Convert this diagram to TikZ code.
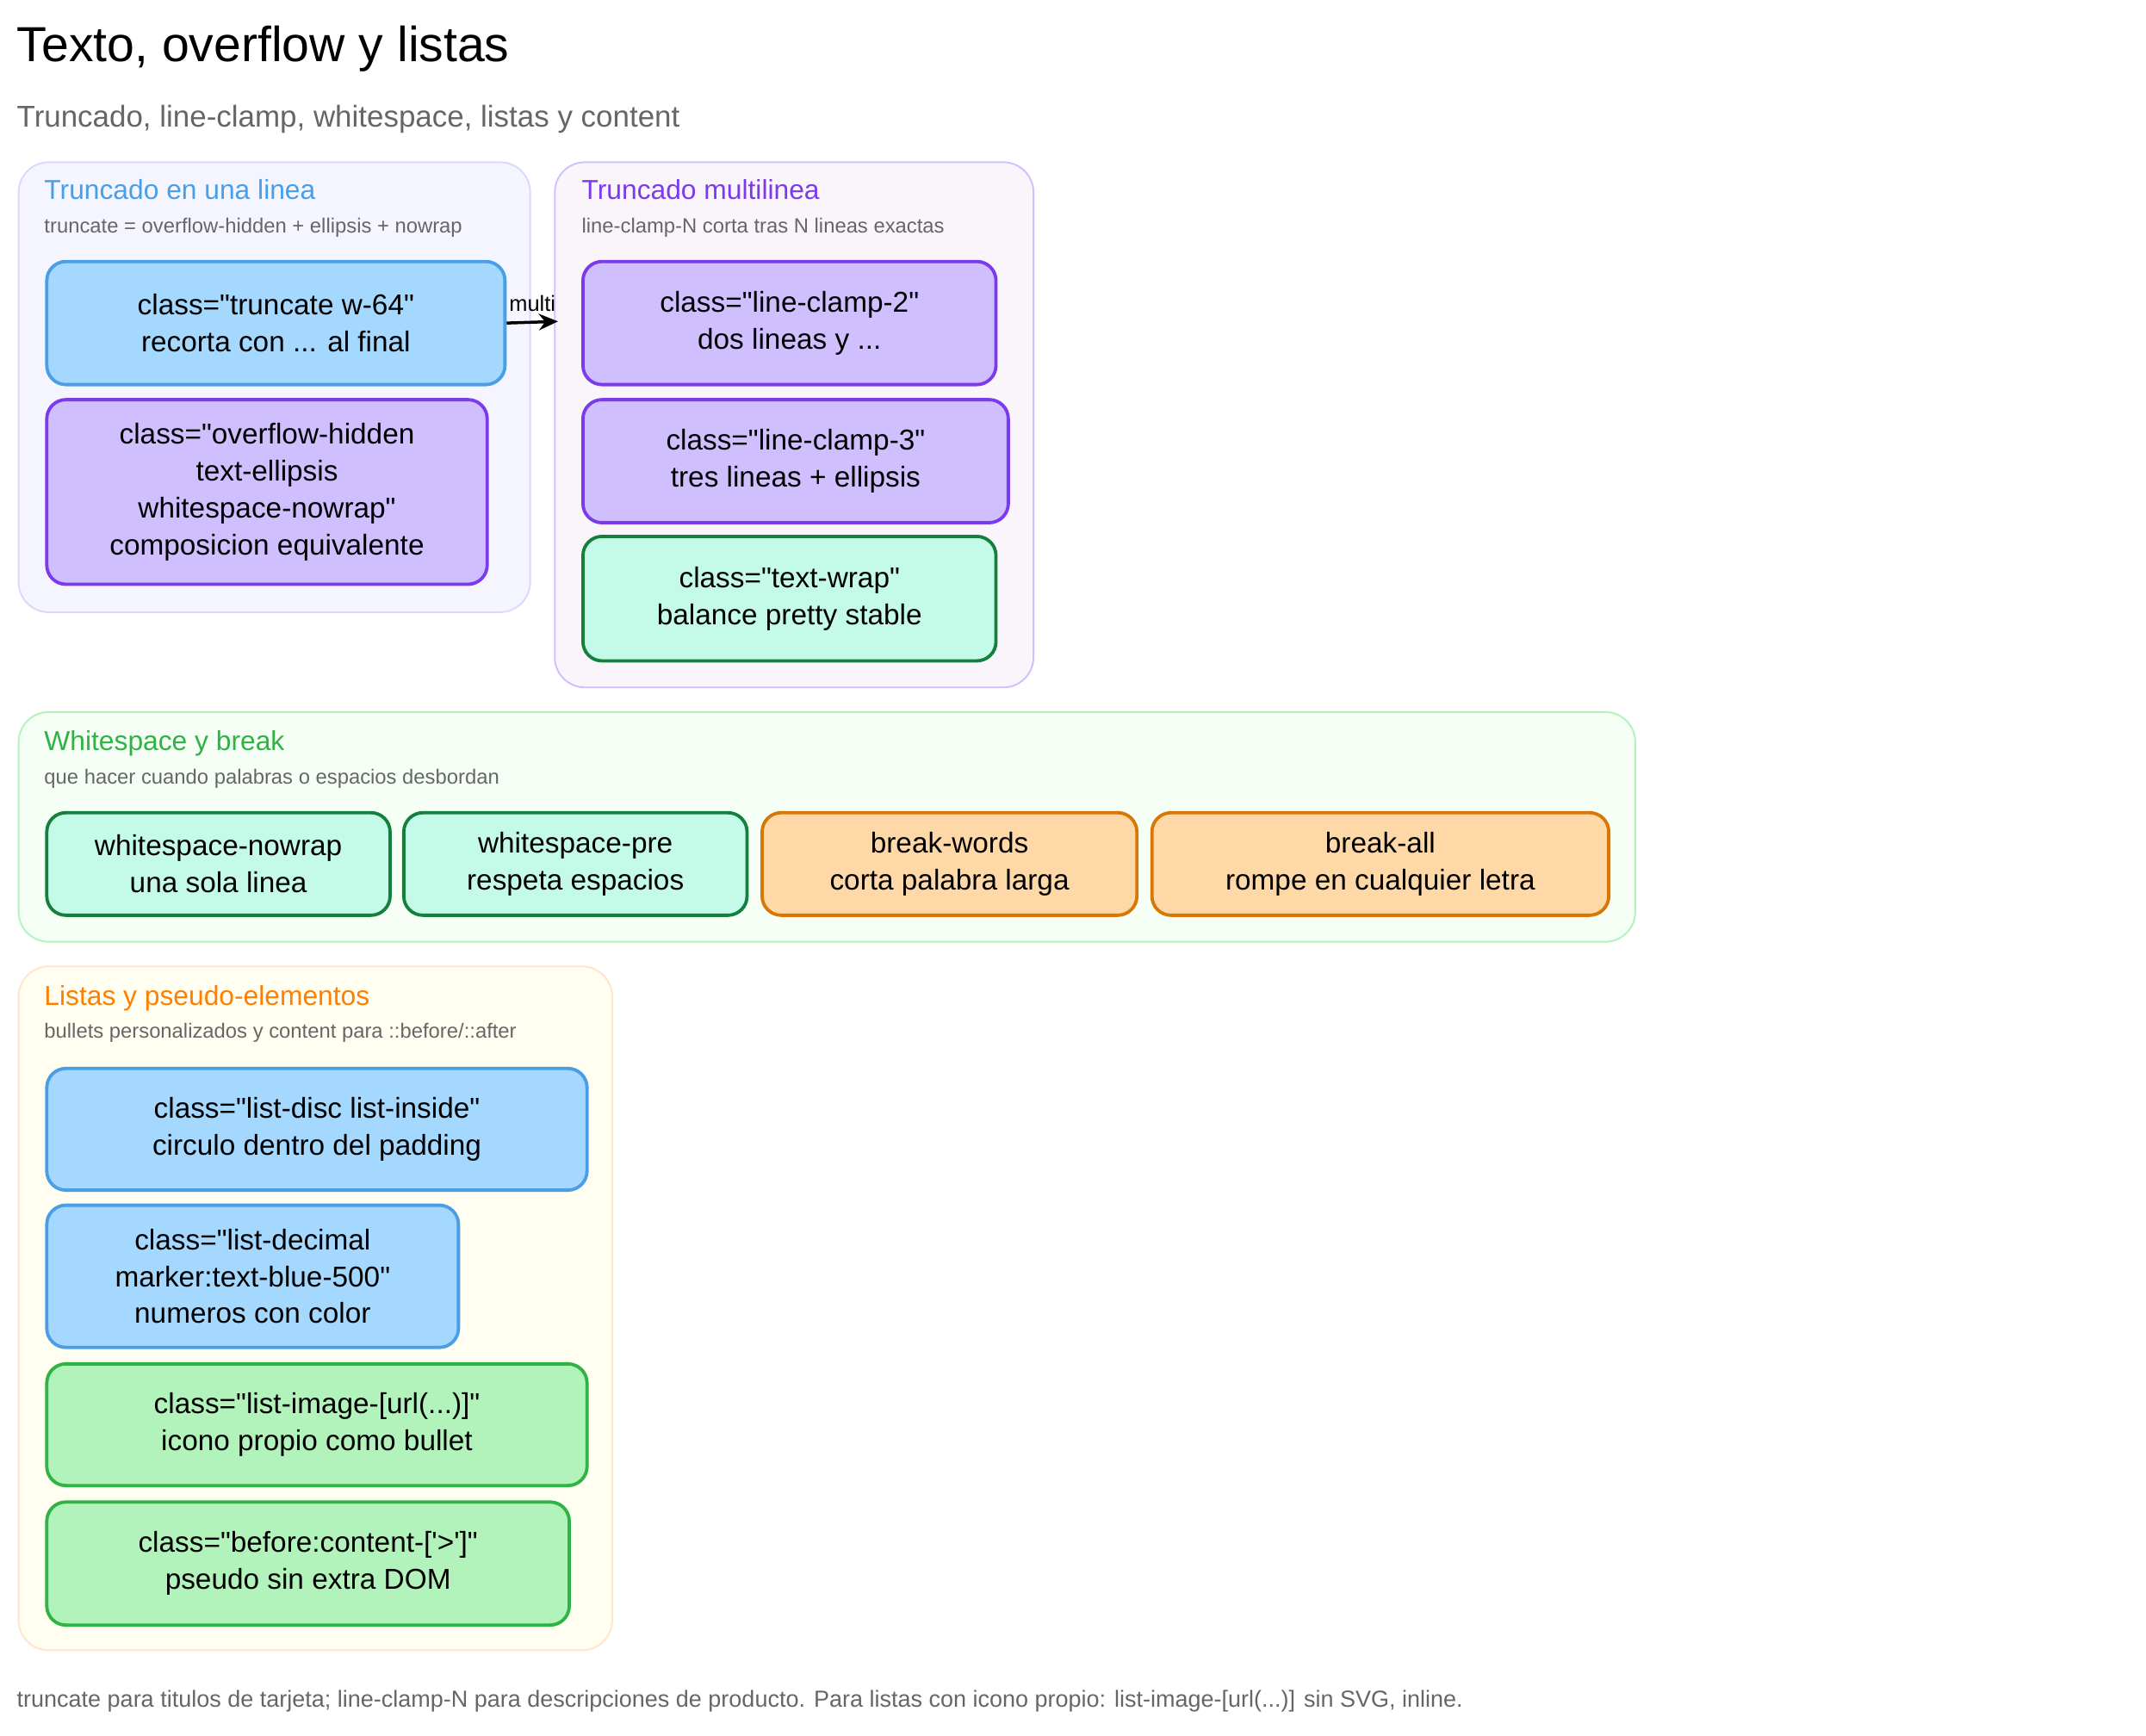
\documentclass[tikz,border=0pt]{standalone}
\usepackage{fontspec}
\setmainfont{Liberation Sans}[Ligatures=TeXOff]
\usetikzlibrary{arrows.meta}
\newcommand{\qq}{\char34\relax}
\definecolor{bluef}{HTML}{A5D8FF}\definecolor{blued}{HTML}{4A9EE6}
\definecolor{purf}{HTML}{D0BFFF}\definecolor{purd}{HTML}{7C3AED}
\definecolor{tealf}{HTML}{C3FAE8}\definecolor{teald}{HTML}{15803D}
\definecolor{orf}{HTML}{FFD8A8}\definecolor{ord}{HTML}{D97706}
\definecolor{grf}{HTML}{B2F2BB}\definecolor{grd}{HTML}{2FB344}
\definecolor{gtxt}{HTML}{666666}
\tikzset{
 box/.style={draw,line width=1.2pt,rounded corners=7pt,anchor=north west,align=center,font=\fontsize{10.5}{13.5}\selectfont,inner sep=2pt},
 blue/.style={box,fill=bluef,draw=blued},
 purp/.style={box,fill=purf,draw=purd},
 teal/.style={box,fill=tealf,draw=teald},
 oran/.style={box,fill=orf,draw=ord},
 gree/.style={box,fill=grf,draw=grd},
 grp/.style={draw,line width=0.6pt,rounded corners=11pt,anchor=north west,inner sep=0pt},
 gt/.style={anchor=base west,inner sep=0pt,font=\fontsize{10}{12}\selectfont},
 gs/.style={anchor=base west,inner sep=0pt,font=\fontsize{7.5}{9}\selectfont,text=gtxt},
}
\begin{document}
\begin{tikzpicture}[x=0.5pt,y=-0.5pt]
\useasboundingbox[fill=white] (0,0) rectangle (1569,1269);
\node[anchor=base west,inner sep=0pt,font=\fontsize{18}{20}\selectfont] (title) at (12,45) {Texto, overflow y listas};
\node[anchor=base west,inner sep=0pt,font=\fontsize{11}{13}\selectfont,text=gtxt] (sub) at (12,93) {Truncado, line-clamp, whitespace, listas y content};
% groups
\node[grp,fill=blue!4,draw=blue!15,minimum width=187pt,minimum height=164.5pt] (g1) at (13,118) {};
\node[grp,fill=violet!4,draw=purf,minimum width=175pt,minimum height=192pt] (g2) at (405,118) {};
\node[grp,fill=green!4,draw=grf,minimum width=591pt,minimum height=84pt] (g3) at (13,520) {};
\node[grp,fill=yellow!6,draw=orange!20,minimum width=217pt,minimum height=250pt] (g4) at (13,706) {};
\node[gt,text=blued] (g1t) at (32,146) {Truncado en una linea};
\node[gs] (g1s) at (32,170) {truncate = overflow-hidden + ellipsis + nowrap};
\node[gt,text=purd] (g2t) at (425,146) {Truncado multilinea};
\node[gs] (g2s) at (425,170) {line-clamp-N corta tras N lineas exactas};
\node[gt,text=grd] (g3t) at (32,549) {Whitespace y break};
\node[gs] (g3s) at (32,573) {que hacer cuando palabras o espacios desbordan};
\node[gt,text=orange] (g4t) at (32,735) {Listas y pseudo-elementos};
\node[gs] (g4s) at (32,759) {bullets personalizados y content para ::before/::after};
% nodes
\node[blue,minimum width=167.5pt,minimum height=45pt] (a) at (33,190) {class=\qq truncate w-64\qq\\recorta con ... al final};
\node[purp,minimum width=161pt,minimum height=67.5pt] (b) at (33,291) {class=\qq overflow-hidden\\text-ellipsis\\whitespace-nowrap\qq\\composicion equivalente};
\node[purp,minimum width=151pt,minimum height=45pt] (c) at (425,190) {class=\qq line-clamp-2\qq\\dos lineas y ...};
\node[purp,minimum width=155.5pt,minimum height=45pt] (d) at (425,291) {class=\qq line-clamp-3\qq\\tres lineas + ellipsis};
\node[teal,minimum width=151pt,minimum height=45.5pt] (e) at (425,391) {class=\qq text-wrap\qq\\balance pretty stable};
\node[teal,minimum width=125.5pt,minimum height=37.5pt] (f) at (33,593) {whitespace-nowrap\\una sola linea};
\node[teal,minimum width=125.5pt,minimum height=37.5pt] (g) at (294,593) {whitespace-pre\\respeta espacios};
\node[oran,minimum width=137pt,minimum height=37.5pt] (h) at (556,593) {break-words\\corta palabra larga};
\node[oran,minimum width=167pt,minimum height=37.5pt] (i) at (841,593) {break-all\\rompe en cualquier letra};
\node[blue,minimum width=197.5pt,minimum height=44.5pt] (j) at (33,780) {class=\qq list-disc list-inside\qq\\circulo dentro del padding};
\node[blue,minimum width=150.5pt,minimum height=52pt] (k) at (33,880) {class=\qq list-decimal\\marker:text-blue-500\qq\\numeros con color};
\node[gree,minimum width=197.5pt,minimum height=44.5pt] (l) at (33,996) {class=\qq list-image-[url(...)]\qq\\icono propio como bullet};
\node[gree,minimum width=191pt,minimum height=45pt] (m) at (33,1097) {class=\qq before:content-['>']\qq\\pseudo sin extra DOM};
% connector
\coordinate (ae) at (408,235);
\draw[line width=1.1pt,-{Stealth[length=7pt,width=6pt]}] (a.east) -- node[above,font=\fontsize{8}{9}\selectfont] (ml) {multi} (ae);
\node[anchor=base west,inner sep=0pt,font=\fontsize{8.5}{10}\selectfont,text=gtxt] (foot) at (12,1248) {truncate para titulos de tarjeta; line-clamp-N para descripciones de producto. Para listas con icono propio: list-image-[url(...)] sin SVG, inline.};
\end{tikzpicture}
\end{document}
